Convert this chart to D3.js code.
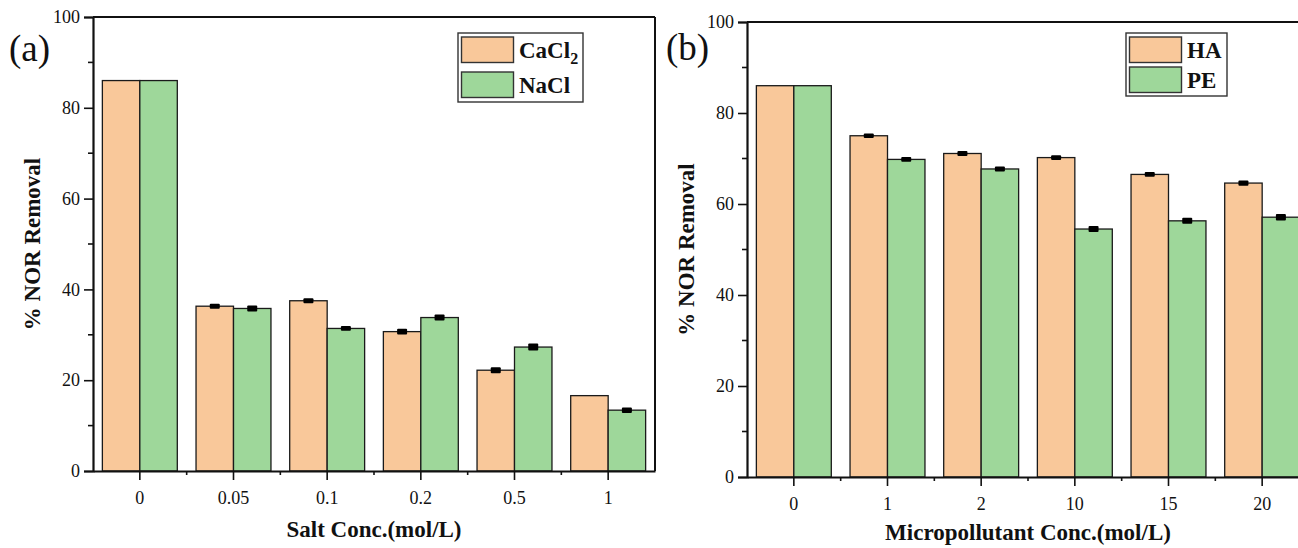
<!DOCTYPE html>
<html>
<head>
<meta charset="utf-8">
<script src="https://cdn.jsdelivr.net/npm/d3@7"></script>
<style>
  html, body { margin: 0; padding: 0; background: #fff; }
  svg { display: block; }
  text { font-family: "Liberation Serif", "Times New Roman", serif; fill: #111; }
</style>
</head>
<body>
<svg id="chart" width="1298" height="548"></svg>
<script>
// ---------- data ----------
const saltCategories = ["0", "0.05", "0.1", "0.2", "0.5", "1"];
const cacl2Values = [86.0, 36.3, 37.5, 30.7, 22.2, 16.6];
const cacl2Errors = [0, 0.3, 0.3, 0.35, 0.4, 0];
const naclValues = [86.0, 35.8, 31.4, 33.8, 27.3, 13.4];
const naclErrors = [0, 0.4, 0.25, 0.4, 0.5, 0.35];

const pollutantCategories = ["0", "1", "2", "10", "15", "20"];
const haValues = [86.0, 75.0, 71.1, 70.2, 66.5, 64.6];
const haErrors = [0, 0.25, 0.3, 0.25, 0.25, 0.3];
const peValues = [86.0, 69.8, 67.7, 54.5, 56.3, 57.1];
const peErrors = [0, 0.25, 0.3, 0.4, 0.4, 0.45];

const yTickValues = [0, 20, 40, 60, 80, 100];
const yMinorTickValues = [10, 30, 50, 70, 90];

const ORANGE = "#F9C89A";
const GREEN = "#9ED79A";

const svg = d3.select("#chart");

function drawPanel(cfg) {
  const g = svg.append("g");
  const x = d3.scaleBand().domain(cfg.categories).range([cfg.x0, cfg.x1]).paddingInner(0).paddingOuter(0);
  const y = d3.scaleLinear().domain([0, 100]).range([cfg.yBot, cfg.yTop]);
  const bw = x.bandwidth() * 0.4;

  const series = [
    { name: cfg.names[0], values: cfg.v1, errors: cfg.e1, color: ORANGE, off: -1 },
    { name: cfg.names[1], values: cfg.v2, errors: cfg.e2, color: GREEN, off: 0 }
  ];

  series.forEach(s => {
    const data = cfg.categories.map((c, i) => ({ c, v: s.values[i], e: s.errors[i] }));
    g.selectAll(null).data(data).enter().append("rect")
      .attr("x", d => x(d.c) + x.bandwidth() / 2 + s.off * bw)
      .attr("y", d => y(d.v))
      .attr("width", bw)
      .attr("height", d => y(0) - y(d.v))
      .attr("fill", s.color)
      .attr("stroke", "#1a1a1a")
      .attr("stroke-width", 1.3);
    // error bars
    const eb = data.filter(d => d.e > 0);
    const cx = d => x(d.c) + x.bandwidth() / 2 + s.off * bw + bw / 2;
    g.selectAll(null).data(eb).enter().append("rect")
      .attr("x", d => cx(d) - 5)
      .attr("y", d => y(d.v + d.e) - 1.2)
      .attr("width", 10)
      .attr("height", d => y(d.v - d.e) - y(d.v + d.e) + 2.4)
      .attr("rx", 1)
      .attr("fill", "#000");
  });

  // frame (top / right)
  g.append("line").attr("x1", cfg.x0).attr("x2", cfg.x1).attr("y1", y(100)).attr("y2", y(100))
    .attr("stroke", "#111").attr("stroke-width", 2);
  if (cfg.rightFrame) {
    g.append("line").attr("x1", cfg.x1).attr("x2", cfg.x1).attr("y1", y(100)).attr("y2", y(0))
      .attr("stroke", "#111").attr("stroke-width", 2);
  }

  // y axis
  const yAxis = g.append("g").attr("transform", `translate(${cfg.x0},0)`)
    .call(d3.axisLeft(y).tickValues(yTickValues).tickSize(9).tickPadding(4).tickFormat(d3.format("d")));
  yAxis.select(".domain").attr("stroke", "#111").attr("stroke-width", 2.2);
  yAxis.selectAll(".tick line").attr("stroke", "#111").attr("stroke-width", 1.6);
  yAxis.selectAll(".tick text").style("font-size", "18px").style("font-family", "Liberation Serif, serif").attr("fill", "#111");
  g.append("g").selectAll(null).data(yMinorTickValues).enter().append("line")
    .attr("x1", cfg.x0).attr("x2", cfg.x0 - 5).attr("y1", d => y(d)).attr("y2", d => y(d))
    .attr("stroke", "#111").attr("stroke-width", 1.6);

  // x axis
  const xAxis = g.append("g").attr("transform", `translate(0,${cfg.yBot})`)
    .call(d3.axisBottom(x).tickSize(9).tickPadding(11).tickSizeOuter(0));
  xAxis.select(".domain").attr("stroke", "#111").attr("stroke-width", 2.2);
  xAxis.selectAll(".tick line").attr("stroke", "#111").attr("stroke-width", 1.6);
  xAxis.selectAll(".tick text").style("font-size", "18px").style("font-family", "Liberation Serif, serif").attr("fill", "#111");
  // minor ticks at band boundaries
  g.append("g").selectAll(null).data(cfg.categories.slice(1)).enter().append("line")
    .attr("x1", d => x(d)).attr("x2", d => x(d)).attr("y1", cfg.yBot).attr("y2", cfg.yBot + 4)
    .attr("stroke", "#111").attr("stroke-width", 1.6);

  // axis titles
  g.append("text")
    .attr("transform", `translate(${cfg.yTitleX},${(cfg.yTop + cfg.yBot) / 2}) rotate(-90)`)
    .attr("text-anchor", "middle")
    .style("font-size", "23px").style("font-weight", "bold")
    .text("% NOR Removal");
  g.append("text")
    .attr("x", (cfg.x0 + cfg.x1) / 2).attr("y", cfg.xTitleY)
    .attr("text-anchor", "middle")
    .style("font-size", "23px").style("font-weight", "bold")
    .text(cfg.xTitle);

  // panel label
  g.append("text").attr("x", cfg.labelX).attr("y", cfg.labelY)
    .style("font-size", "37px").text(cfg.label);

  // legend
  const L = cfg.legend;
  g.append("rect").attr("x", L.x).attr("y", L.y).attr("width", L.w).attr("height", L.h)
    .attr("fill", "#fff").attr("stroke", "#333").attr("stroke-width", 1.4);
  series.forEach((s, i) => {
    const sy = L.y + 4 + i * L.step;
    g.append("rect").attr("x", L.x + 3.5).attr("y", sy).attr("width", 52).attr("height", 25.5)
      .attr("fill", s.color).attr("stroke", "#333").attr("stroke-width", 1.4);
    const t = g.append("text").attr("x", L.x + 61).attr("y", sy + 21)
      .style("font-size", "23px").style("font-weight", "bold");
    if (s.name === "CaCl2") {
      t.append("tspan").text("CaCl");
      t.append("tspan").attr("dy", 6).style("font-size", "16px").text("2");
    } else {
      t.text(s.name);
    }
  });
}

drawPanel({
  categories: saltCategories, v1: cacl2Values, e1: cacl2Errors, v2: naclValues, e2: naclErrors,
  names: ["CaCl2", "NaCl"],
  x0: 93, x1: 655, yTop: 17, yBot: 471, rightFrame: true,
  yTitleX: 40, xTitleY: 537, xTitle: "Salt Conc.(mol/L)",
  label: "(a)", labelX: 9, labelY: 61,
  legend: { x: 458, y: 33, w: 125, h: 69, step: 35 }
});

drawPanel({
  categories: pollutantCategories, v1: haValues, e1: haErrors, v2: peValues, e2: peErrors,
  names: ["HA", "PE"],
  x0: 747, x1: 1309, yTop: 22, yBot: 477, rightFrame: false,
  yTitleX: 694, xTitleY: 540, xTitle: "Micropollutant Conc.(mol/L)",
  label: "(b)", labelX: 666, labelY: 60,
  legend: { x: 1126, y: 33, w: 101, h: 63, step: 30 }
});
</script>
</body>
</html>
